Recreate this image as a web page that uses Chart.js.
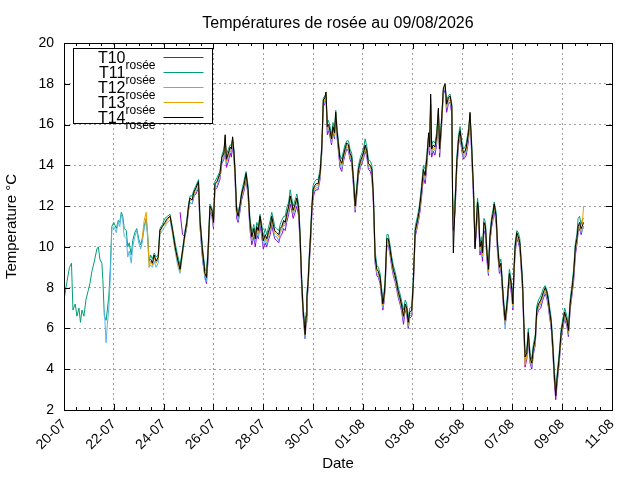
<!DOCTYPE html>
<html>
<head>
<meta charset="utf-8">
<script src="https://cdn.jsdelivr.net/npm/chart.js@4.4.1/dist/chart.umd.min.js"></script>
<style>
  html, body { margin: 0; padding: 0; background: #fff; }
</style>
</head>
<body>
<canvas id="rosee" width="640" height="480"></canvas>
<script>
'use strict';

const titre = 'Températures de rosée au 09/08/2026';
const etiquettesX = ['20-07', '22-07', '24-07', '26-07', '28-07', '30-07',
                     '01-08', '03-08', '05-08', '07-08', '09-08', '11-08'];
const sondes = ['T10', 'T11', 'T12', 'T13', 'T14'];
const couleurs = ['#9400d3', '#009e73', '#56b4e9', '#e69f00', '#000000'];

// jours depuis le 20-07 00h00
const jours = [
  0.00,0.12,0.22,0.30,0.36,0.45,0.52,0.60,0.66,0.72,
  0.80,0.88,0.96,1.04,1.12,1.22,1.32,1.38,1.44,1.52,
  1.56,1.62,1.69,1.74,1.80,1.86,1.92,2.00,2.10,2.18,
  2.24,2.30,2.36,2.42,2.50,2.56,2.62,2.70,2.76,2.84,
  2.92,3.00,3.08,3.14,3.22,3.30,3.36,3.42,
  3.48,3.55,3.62,3.70,3.78,3.85,3.95,4.05,4.15,4.26,
  4.36,4.46,4.56,4.66,4.76,4.86,4.93,5.00,5.06,5.14,
  5.22,5.30,5.40,5.46,5.56,5.66,5.72,5.78,5.86,5.94,
  6.00,6.06,6.14,6.26,6.34,6.42,6.47,6.52,6.60,6.67,
  6.72,6.77,6.83,6.87,6.93,6.99,7.06,7.13,7.22,7.31,
  7.39,7.46,7.54,7.62,7.68,7.74,7.80,7.87,7.94,8.00,
  8.08,8.14,8.20,8.28,8.34,8.40,8.46,8.54,8.62,8.68,
  8.74,8.82,8.88,8.94,9.02,9.08,9.14,9.20,9.28,9.35,
  9.42,9.48,9.54,9.60,9.65,9.68,9.72,9.75,9.80,9.84,
  9.90,9.95,10.00,10.06,10.12,10.20,10.28,10.35,10.41,10.47,
  10.52,10.57,10.62,10.68,10.74,10.80,10.86,10.91,10.96,11.00,
  11.08,11.15,11.22,11.28,11.35,11.42,11.48,11.55,11.62,11.69,
  11.76,11.82,11.90,11.96,12.02,12.09,12.16,12.22,12.30,12.36,
  12.42,12.45,12.49,12.56,12.62,12.69,12.75,12.80,12.85,12.89,
  12.96,13.02,13.09,13.16,13.22,13.29,13.36,13.42,13.49,13.56,
  13.63,13.70,13.76,13.82,13.88,13.96,14.02,14.10,14.19,14.25,
  14.30,14.36,14.43,14.50,14.57,14.64,14.68,14.72,14.76,14.82,
  14.89,14.96,15.03,15.08,15.15,15.23,15.30,15.36,15.43,15.50,
  15.57,15.60,15.63,15.70,15.77,15.84,15.90,15.97,16.04,16.10,
  16.15,16.24,16.30,16.36,16.44,16.50,16.55,16.60,16.64,16.70,
  16.76,16.80,16.86,16.92,16.98,17.04,17.10,17.17,17.22,17.27,
  17.35,17.40,17.48,17.54,17.58,17.65,17.71,17.75,17.80,17.88,
  17.94,17.98,18.02,18.07,18.11,18.18,18.24,18.30,18.34,18.41,
  18.46,18.51,18.58,18.64,18.71,18.78,18.84,18.92,18.98,19.05,
  19.14,19.20,19.25,19.32,19.38,19.44,19.49,19.56,19.63,19.68,
  19.74,19.80,19.88,19.96,20.03,20.10,20.19,20.25,20.32,20.39,
  20.46,20.53,20.59,20.64,20.70,20.76,20.80,20.86
];

// chaque serie finit a la derniere mesure, elle commence plus ou moins tot
const T10 = [
  11.7,10.6,10.5,11.0,11.8,12.2,12.1,
  12.5,12.6,12.9,11.0,9.4,8.5,8.2,9.3,11.7,11.5,
  10.9,12.8,12.9,13.3,14.1,14.3,15.0,13.9,14.2,14.6,
  14.4,15.0,14.2,13.2,11.4,11.2,11.7,12.3,12.7,13.3,
  12.5,10.9,10.1,10.5,10.0,10.6,10.4,11.1,10.5,9.9,
  10.2,10.0,10.3,10.6,11.1,10.7,10.4,10.3,10.2,10.5,
  10.6,10.9,10.8,11.2,11.6,12.1,11.8,11.4,11.7,12.0,
  11.5,10.1,8.0,6.6,5.9,5.5,6.3,7.2,8.0,9.0,
  10.2,11.5,12.4,12.7,12.8,12.8,13.3,14.6,16.9,17.0,
  17.3,15.5,15.7,15.4,15.0,15.6,15.3,16.3,15.4,14.9,
  13.9,13.7,14.2,14.5,14.8,14.7,14.3,14.1,13.0,11.7,
  12.6,13.5,13.9,14.1,14.3,14.7,14.4,13.8,13.7,13.4,
  12.1,10.9,9.2,8.6,8.5,8.2,7.5,6.9,7.3,7.9,
  10.0,10.1,9.6,9.0,8.6,8.3,7.9,7.5,7.2,6.8,
  6.2,6.9,6.7,6.0,6.5,6.6,7.9,10.5,11.0,11.4,
  11.8,12.5,13.4,13.1,14.0,15.2,14.5,17.0,14.4,14.7,
  14.5,15.0,16.4,14.4,15.7,17.5,17.7,16.6,17.0,17.1,
  16.5,12.0,10.8,11.7,13.8,15.0,15.4,14.7,14.3,14.4,
  14.5,15.2,16.3,14.7,12.3,10.0,10.6,11.8,11.4,9.6,
  9.9,9.3,10.8,10.6,9.3,8.6,10.2,11.0,11.3,11.8,
  11.1,9.8,8.7,8.9,8.2,6.9,6.2,6.5,7.1,8.4,
  7.9,7.5,6.9,8.7,9.7,10.4,10.2,9.9,9.2,7.8,
  5.9,4.1,4.5,5.5,4.3,4.0,4.7,5.2,6.6,6.9,
  7.0,7.3,7.5,7.7,7.5,7.1,6.6,6.0,4.7,3.5,
  2.5,3.3,4.3,5.5,6.0,6.5,6.1,5.6,6.9,7.6,
  8.3,9.6,10.1,10.7,10.9,10.6,10.8,11.0
];

const T11 = [
  7.4,8.3,9.0,9.2,6.9,7.2,6.6,7.0,6.3,6.9,
  6.6,7.4,7.8,8.2,8.8,9.3,9.9,10.0,9.4,9.2,
  8.4,6.6,6.4,6.9,7.6,9.0,11.0,11.2,10.9,11.3,
  11.2,11.7,11.5,10.9,10.8,10.0,10.2,9.6,10.3,10.7,
  10.9,10.4,10.1,10.4,11.0,11.4,10.6,9.3,
  9.6,9.4,9.7,9.5,9.6,10.9,11.1,11.4,11.5,11.6,
  10.9,10.2,9.6,9.1,9.9,10.8,11.3,12.1,12.5,12.5,
  12.8,13.0,13.3,11.5,10.0,8.9,8.8,9.9,12.1,11.9,
  11.4,13.2,13.4,13.7,14.5,14.8,15.3,14.5,14.8,15.0,
  15.0,15.3,14.7,13.8,12.0,11.7,12.1,12.7,13.2,13.7,
  13.0,11.5,10.7,11.1,10.6,11.2,11.0,11.6,11.1,10.5,
  10.9,10.6,10.9,11.3,11.7,11.4,11.0,10.9,10.8,11.1,
  11.3,11.5,11.5,11.9,12.2,12.8,12.4,12.0,12.3,12.6,
  12.1,10.7,8.6,7.1,6.4,6.0,6.8,7.7,8.5,9.5,
  10.8,12.1,13.0,13.2,13.3,13.3,13.8,15.0,17.3,17.4,
  17.5,16.1,16.2,15.9,15.5,16.1,15.8,16.7,15.9,15.4,
  14.5,14.3,14.7,15.0,15.2,15.2,14.8,14.6,13.5,12.2,
  13.1,14.0,14.4,14.6,14.8,15.3,14.9,14.3,14.2,14.0,
  12.7,11.5,9.8,9.1,9.0,8.7,8.0,7.4,7.8,8.4,
  10.6,10.6,10.1,9.5,9.1,8.8,8.4,8.0,7.7,7.3,
  6.9,7.4,7.2,6.5,7.0,7.1,8.4,11.0,11.5,11.9,
  12.4,13.1,14.0,13.8,14.6,15.5,15.1,17.0,15.0,15.2,
  15.1,15.6,16.7,15.0,16.2,17.7,17.9,17.2,17.4,17.5,
  17.0,12.8,11.6,12.4,14.4,15.5,15.9,15.2,14.8,14.9,
  15.1,15.8,16.5,15.3,13.0,10.4,11.2,12.4,12.0,10.2,
  10.5,9.9,11.4,11.2,9.9,9.1,10.7,11.5,11.8,12.2,
  11.7,10.4,9.2,9.4,8.7,7.4,6.6,7.0,7.6,8.9,
  8.5,8.1,7.4,9.2,10.2,10.8,10.7,10.4,9.7,8.4,
  6.5,4.8,5.0,6.0,4.8,4.5,5.2,5.7,7.1,7.4,
  7.6,7.8,8.0,8.1,7.9,7.6,7.1,6.5,5.3,4.1,
  3.1,3.8,4.8,6.0,6.5,7.0,6.6,6.1,7.4,8.1,
  8.9,10.2,10.6,11.4,11.5,11.1,11.3,11.4
];

const T12 = [
  6.9,5.3,6.2,7.0,8.5,10.9,11.0,10.7,11.2,
  11.0,11.6,11.3,10.5,10.4,9.5,9.8,9.2,10.0,10.5,
  10.8,10.2,9.9,10.2,10.9,11.3,10.4,9.0,
  9.1,9.0,9.3,9.0,9.2,10.6,10.8,11.0,11.2,11.3,
  10.6,9.8,9.1,8.7,9.6,10.5,11.0,11.8,12.2,12.1,
  12.5,12.7,13.0,11.0,9.5,8.4,8.3,9.4,11.8,11.6,
  11.0,12.9,13.0,13.4,14.2,14.4,15.2,14.1,14.4,14.7,
  14.6,15.2,14.3,13.3,11.6,11.3,11.8,12.4,12.8,13.4,
  12.6,11.1,10.3,10.6,10.2,10.8,10.5,11.3,10.7,10.1,
  10.4,10.1,10.5,10.8,11.3,10.9,10.5,10.5,10.3,10.7,
  10.8,11.1,11.0,11.4,11.8,12.3,12.0,11.6,11.9,12.2,
  11.7,10.3,8.2,6.7,6.0,5.5,6.4,7.3,8.1,9.1,
  10.4,11.7,12.6,12.8,12.9,12.9,13.4,14.7,17.0,17.1,
  17.4,15.7,15.8,15.5,15.1,15.7,15.4,16.4,15.5,15.0,
  14.1,13.8,14.3,14.6,14.9,14.8,14.4,14.2,13.1,11.8,
  12.7,13.6,14.0,14.2,14.4,14.8,14.5,13.9,13.8,13.6,
  12.3,11.1,9.3,8.7,8.6,8.3,7.6,7.0,7.4,8.0,
  10.2,10.2,9.7,9.1,8.7,8.4,8.0,7.6,7.3,6.9,
  6.4,7.0,6.8,6.1,6.6,6.7,8.0,10.6,11.1,11.5,
  12.0,12.7,13.6,13.3,14.2,15.4,14.7,17.2,14.6,14.8,
  14.7,15.2,16.6,14.6,15.8,17.6,17.8,16.8,17.1,17.2,
  16.7,12.2,11.2,11.9,14.0,15.1,15.5,14.8,14.4,14.5,
  14.7,15.4,16.4,14.9,12.6,10.1,10.8,12.0,11.6,9.8,
  10.1,9.5,11.0,10.8,9.5,8.7,10.3,11.1,11.4,11.9,
  11.3,10.0,8.8,9.0,8.3,7.0,6.0,6.6,7.2,8.5,
  8.1,7.7,7.0,8.8,9.8,10.5,10.3,10.0,9.3,8.0,
  6.1,4.4,4.6,5.6,4.4,4.1,4.8,5.3,6.7,7.0,
  7.2,7.4,7.6,7.8,7.6,7.2,6.7,6.1,4.8,3.6,
  2.9,3.4,4.4,5.6,6.1,6.6,6.2,5.7,7.0,7.7,
  8.5,9.8,10.2,10.8,11.0,10.7,10.8,11.0
];

const T13 = [
  10.4,11.3,11.7,10.5,9.0,
  9.3,9.1,9.5,9.2,9.4,10.7,11.0,11.1,11.3,11.5,
  10.7,9.9,9.3,8.8,9.7,10.6,11.1,11.9,12.3,12.3,
  12.6,12.9,13.1,11.2,9.7,8.6,8.5,9.6,11.9,11.8,
  11.1,13.0,13.2,13.5,14.4,14.5,15.4,14.2,14.5,14.8,
  14.7,15.3,14.4,13.5,11.7,11.5,12.0,12.5,12.9,13.5,
  12.7,11.2,10.4,10.8,10.4,10.9,10.7,11.4,10.8,10.3,
  10.5,10.3,10.6,10.9,11.4,11.0,10.7,10.6,10.5,10.8,
  10.9,11.2,11.1,11.5,11.9,12.4,12.1,11.7,12.0,12.3,
  11.8,10.4,8.3,6.8,6.1,5.7,6.5,7.4,8.2,9.2,
  10.5,11.8,12.7,12.9,13.0,13.0,13.5,14.8,17.1,17.2,
  17.5,15.8,15.9,15.6,15.2,15.8,15.5,16.5,15.6,15.1,
  14.2,14.0,14.4,14.7,15.0,14.9,14.5,14.3,13.2,11.9,
  12.8,13.7,14.1,14.3,14.5,14.9,14.6,14.0,13.9,13.7,
  12.4,11.2,9.4,8.8,8.7,8.4,7.7,7.1,7.5,8.1,
  10.3,10.3,9.8,9.2,8.8,8.5,8.1,7.7,7.4,7.0,
  6.5,7.1,6.9,6.2,6.7,6.8,8.1,10.7,11.2,11.6,
  12.1,12.8,13.7,13.4,14.3,15.5,14.8,17.3,14.7,14.9,
  14.8,15.3,16.7,14.7,15.9,17.7,17.9,16.9,17.2,17.3,
  16.8,12.3,11.0,12.0,14.1,15.2,15.6,14.9,14.5,14.6,
  14.8,15.5,16.5,15.0,12.7,10.3,10.9,12.1,11.7,9.9,
  10.2,9.6,11.1,10.9,9.6,8.8,10.4,11.2,11.5,12.0,
  11.4,10.1,8.9,9.1,8.4,7.1,6.3,6.7,7.3,8.6,
  8.2,7.8,7.1,8.9,9.9,10.6,10.4,10.1,9.4,8.1,
  6.2,4.2,4.7,5.7,4.5,4.2,4.9,5.4,6.8,7.1,
  7.3,7.5,7.7,7.9,7.7,7.3,6.8,6.2,4.9,3.7,
  2.8,3.5,4.5,5.7,6.2,6.7,6.3,5.8,7.1,7.8,
  8.6,9.9,10.3,10.9,11.1,10.8,11.0,12.0
];

const T14 = [
  9.4,9.2,9.6,9.3,9.5,10.8,11.0,11.2,11.4,11.5,
  10.8,10.0,9.4,8.9,9.8,10.7,11.2,12.0,12.4,12.3,
  12.7,12.9,13.2,11.3,9.8,8.7,8.5,9.7,12.0,11.8,
  11.2,13.1,13.2,13.6,14.4,14.6,15.5,14.3,14.6,14.9,
  14.8,15.4,14.5,13.6,11.8,11.5,12.0,12.6,13.0,13.6,
  12.8,11.3,10.5,10.9,10.4,11.0,10.8,11.5,10.9,10.3,
  10.6,10.4,10.7,11.0,11.5,11.1,10.8,10.7,10.6,10.9,
  11.0,11.3,11.2,11.6,12.0,12.5,12.2,11.8,12.1,12.4,
  11.9,10.5,8.4,6.9,6.2,5.7,6.6,7.5,8.3,9.3,
  10.6,11.9,12.8,13.0,13.1,13.1,13.6,14.9,17.2,17.3,
  17.6,15.9,16.0,15.7,15.3,15.9,15.6,16.6,15.7,15.2,
  14.3,14.1,14.5,14.8,15.1,15.0,14.6,14.4,13.3,12.0,
  12.9,13.8,14.2,14.4,14.6,15.0,14.7,14.1,14.0,13.8,
  12.5,11.3,9.5,8.9,8.8,8.5,7.8,7.2,7.6,8.2,
  10.4,10.4,9.9,9.3,8.9,8.6,8.2,7.8,7.5,7.1,
  6.6,7.2,7.0,6.3,6.8,6.9,8.2,10.8,11.3,11.7,
  12.2,12.9,13.8,13.5,14.4,15.6,14.9,17.5,14.8,15.0,
  14.9,15.4,16.8,14.8,16.0,17.8,18.0,17.0,17.3,17.4,
  16.9,12.4,9.7,12.1,14.2,15.3,15.7,15.0,14.6,14.7,
  14.9,15.6,16.6,15.1,12.8,9.9,11.0,12.2,11.8,10.0,
  10.3,9.7,11.2,11.0,9.7,8.9,10.5,11.3,11.6,12.1,
  11.5,10.2,9.0,9.2,8.5,7.2,6.4,6.8,7.4,8.7,
  8.3,7.9,7.2,9.0,10.0,10.7,10.5,10.2,9.5,8.2,
  6.3,4.6,4.8,5.8,4.6,4.3,5.0,5.5,6.9,7.2,
  7.4,7.6,7.8,8.0,7.8,7.4,6.9,6.3,5.0,3.8,
  2.7,3.6,4.6,5.8,6.3,6.8,6.4,5.9,7.2,7.9,
  8.7,10.0,10.4,11.0,11.2,10.9,11.0,11.2
];

const valeurs = [T10, T11, T12, T13, T14];

Chart.defaults.font.family = '"Liberation Sans", Arial, sans-serif';
Chart.defaults.color = '#000';

// les series sont calees sur la fin du tableau des jours
function versPoints(serie) {
  const decal = jours.length - serie.length;
  return serie.map((v, i) => ({ x: jours[decal + i], y: v }));
}

const datasets = sondes.map((nom, k) => ({
  label: nom + ' rosée',
  data: versPoints(valeurs[k]),
  borderColor: couleurs[k],
  backgroundColor: couleurs[k],
  borderWidth: 1,
  pointRadius: 0,
  tension: 0,
  fill: false,
  order: sondes.length - 1 - k
}));

// cadre, graduations vers l'interieur, titre et legende facon gnuplot
const cadreGnuplot = {
  id: 'cadreGnuplot',
  afterDraw(chart) {
    const ctx = chart.ctx;
    const a = chart.chartArea;
    const sx = chart.scales.x, sy = chart.scales.y;
    ctx.save();
    ctx.strokeStyle = '#000';
    ctx.lineWidth = 1;
    ctx.beginPath();
    for (let d = sx.min; d <= sx.max + 1e-6; d += 0.5) {
      const px = Math.round(sx.getPixelForValue(d)) + 0.5;
      const long = (Math.abs(d / 2 - Math.round(d / 2)) < 1e-6) ? 6 : 3;
      ctx.moveTo(px, a.bottom); ctx.lineTo(px, a.bottom - long);
      ctx.moveTo(px, a.top); ctx.lineTo(px, a.top + long);
    }
    for (let v = sy.min; v <= sy.max + 1e-6; v += 2) {
      const py = Math.round(sy.getPixelForValue(v)) + 0.5;
      ctx.moveTo(a.left, py); ctx.lineTo(a.left + 6, py);
      ctx.moveTo(a.right, py); ctx.lineTo(a.right - 6, py);
    }
    ctx.stroke();
    ctx.strokeRect(Math.round(a.left) + 0.5, Math.round(a.top) + 0.5,
                   Math.round(a.right - a.left), Math.round(a.bottom - a.top));

    // titre
    ctx.fillStyle = '#000';
    ctx.font = '16px "Liberation Sans", Arial, sans-serif';
    ctx.textAlign = 'center';
    ctx.textBaseline = 'alphabetic';
    ctx.fillText(titre, (a.left + a.right) / 2, 28);

    // legende
    const bx = a.left + 9.5, by = a.top + 5.5, bw = 139, bh = 75;
    ctx.fillStyle = '#fff';
    ctx.fillRect(bx, by, bw, bh);
    ctx.strokeRect(bx, by, bw, bh);
    const finTexte = bx + 82;
    sondes.forEach((nom, k) => {
      const ly = Math.round(by + 8.5 + 15 * k) + 0.5;
      ctx.font = '12px "Liberation Sans", Arial, sans-serif';
      const lSub = ctx.measureText('rosée').width;
      ctx.font = '16px "Liberation Sans", Arial, sans-serif';
      const lNom = ctx.measureText(nom).width;
      ctx.fillStyle = '#000';
      ctx.textAlign = 'left';
      ctx.fillText(nom, finTexte - lSub - lNom, ly + 5);
      ctx.font = '12px "Liberation Sans", Arial, sans-serif';
      ctx.fillText('rosée', finTexte - lSub, ly + 11.5);
      ctx.strokeStyle = couleurs[k];
      ctx.beginPath();
      ctx.moveTo(bx + 90, ly);
      ctx.lineTo(bx + 130, ly);
      ctx.stroke();
    });
    ctx.restore();
  }
};

new Chart(document.getElementById('rosee'), {
  type: 'line',
  data: { datasets },
  options: {
    responsive: false,
    animation: false,
    devicePixelRatio: 1,
    layout: { padding: { top: 43, right: 28, left: 0, bottom: 0 } },
    plugins: {
      legend: { display: false },
      title: { display: false },
      tooltip: { enabled: false }
    },
    scales: {
      x: {
        type: 'linear',
        min: 0,
        max: 22,
        afterFit(scale) { scale.height = 70; },
        ticks: {
          stepSize: 2,
          autoSkip: false,
          minRotation: 45,
          maxRotation: 45,
          padding: 6,
          font: { size: 14 },
          color: '#000',
          callback: (v) => etiquettesX[Math.round(v / 2)]
        },
        grid: { color: '#a0a0a0', lineWidth: 1, drawTicks: false },
        border: { display: false, dash: [2, 3] },
        title: { display: true, text: 'Date', font: { size: 15 }, color: '#000', padding: 7 }
      },
      y: {
        min: 2,
        max: 20,
        afterFit(scale) { scale.width = 64; },
        ticks: { stepSize: 2, padding: 10, font: { size: 14 }, color: '#000' },
        grid: { color: '#a0a0a0', lineWidth: 1, drawTicks: false },
        border: { display: false, dash: [2, 3] },
        title: { display: true, text: 'Temperature °C', font: { size: 15 }, color: '#000', padding: 3 }
      }
    }
  },
  plugins: [cadreGnuplot]
});
</script>
</body>
</html>
